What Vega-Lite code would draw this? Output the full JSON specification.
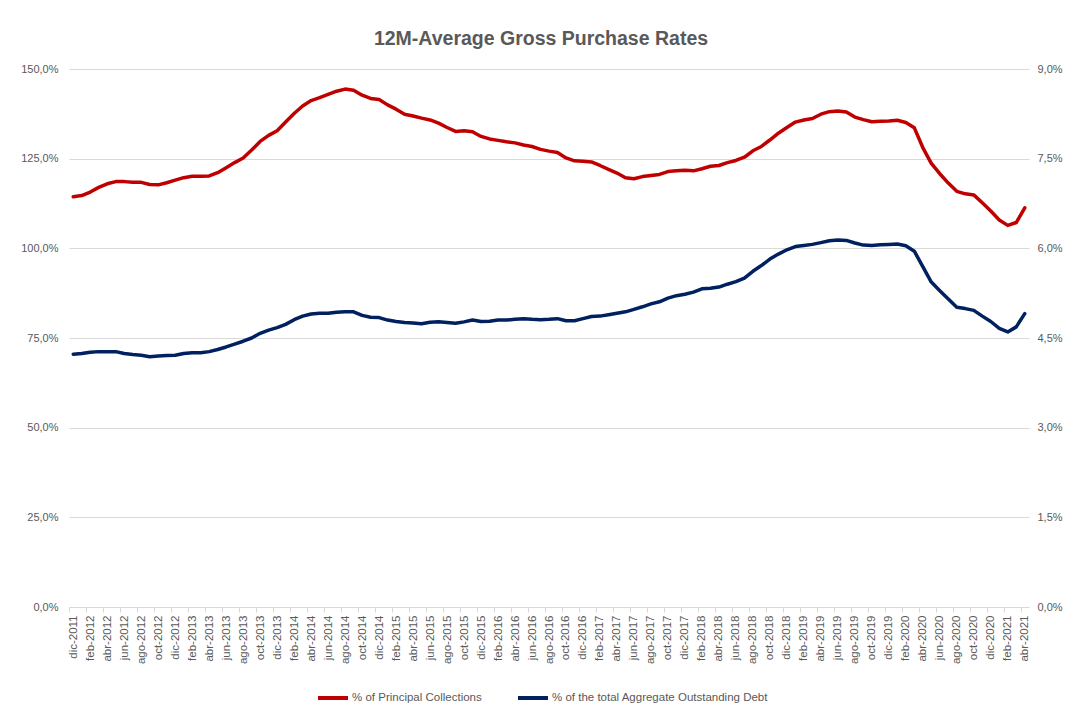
{
  "$schema": "https://vega.github.io/schema/vega-lite/v6.json",
  "width": 960,
  "height": 538,
  "autosize": {"type": "none"},
  "padding": {"left": 69, "top": 69, "right": 36, "bottom": 97},
  "background": "white",
  "config": {
    "locale": {"number": {"decimal": ",", "thousands": ".", "grouping": [3], "currency": ["", " €"]}},
    "view": {"stroke": null},
    "font": "Liberation Sans"
  },
  "title": {
    "text": "12M-Average Gross Purchase Rates",
    "fontSize": 19.5,
    "fontWeight": "bold",
    "color": "#595959",
    "font": "Liberation Sans",
    "anchor": "middle",
    "offset": 14,
    "dx": -8
  },
  "data": {
    "values": [
      {"m": "dic-2011", "pc": 1.144, "debt": 0.04230},
      {"m": "ene-2012", "pc": 1.147, "debt": 0.04242},
      {"m": "feb-2012", "pc": 1.157, "debt": 0.04260},
      {"m": "mar-2012", "pc": 1.170, "debt": 0.04272},
      {"m": "abr-2012", "pc": 1.180, "debt": 0.04272},
      {"m": "may-2012", "pc": 1.186, "debt": 0.04272},
      {"m": "jun-2012", "pc": 1.186, "debt": 0.04242},
      {"m": "jul-2012", "pc": 1.184, "debt": 0.04224},
      {"m": "ago-2012", "pc": 1.184, "debt": 0.04212},
      {"m": "sep-2012", "pc": 1.178, "debt": 0.04188},
      {"m": "oct-2012", "pc": 1.177, "debt": 0.04200},
      {"m": "nov-2012", "pc": 1.183, "debt": 0.04206},
      {"m": "dic-2012", "pc": 1.190, "debt": 0.04212},
      {"m": "ene-2013", "pc": 1.197, "debt": 0.04242},
      {"m": "feb-2013", "pc": 1.201, "debt": 0.04254},
      {"m": "mar-2013", "pc": 1.201, "debt": 0.04254},
      {"m": "abr-2013", "pc": 1.202, "debt": 0.04272},
      {"m": "may-2013", "pc": 1.211, "debt": 0.04308},
      {"m": "jun-2013", "pc": 1.225, "debt": 0.04350},
      {"m": "jul-2013", "pc": 1.239, "debt": 0.04398},
      {"m": "ago-2013", "pc": 1.252, "debt": 0.04446},
      {"m": "sep-2013", "pc": 1.274, "debt": 0.04500},
      {"m": "oct-2013", "pc": 1.298, "debt": 0.04578},
      {"m": "nov-2013", "pc": 1.315, "debt": 0.04632},
      {"m": "dic-2013", "pc": 1.328, "debt": 0.04674},
      {"m": "ene-2014", "pc": 1.352, "debt": 0.04728},
      {"m": "feb-2014", "pc": 1.376, "debt": 0.04806},
      {"m": "mar-2014", "pc": 1.397, "debt": 0.04866},
      {"m": "abr-2014", "pc": 1.412, "debt": 0.04902},
      {"m": "may-2014", "pc": 1.420, "debt": 0.04914},
      {"m": "jun-2014", "pc": 1.429, "debt": 0.04914},
      {"m": "jul-2014", "pc": 1.438, "debt": 0.04932},
      {"m": "ago-2014", "pc": 1.444, "debt": 0.04938},
      {"m": "sep-2014", "pc": 1.441, "debt": 0.04938},
      {"m": "oct-2014", "pc": 1.427, "debt": 0.04878},
      {"m": "nov-2014", "pc": 1.418, "debt": 0.04848},
      {"m": "dic-2014", "pc": 1.415, "debt": 0.04842},
      {"m": "ene-2015", "pc": 1.400, "debt": 0.04800},
      {"m": "feb-2015", "pc": 1.388, "debt": 0.04776},
      {"m": "mar-2015", "pc": 1.374, "debt": 0.04758},
      {"m": "abr-2015", "pc": 1.369, "debt": 0.04752},
      {"m": "may-2015", "pc": 1.363, "debt": 0.04740},
      {"m": "jun-2015", "pc": 1.358, "debt": 0.04764},
      {"m": "jul-2015", "pc": 1.349, "debt": 0.04770},
      {"m": "ago-2015", "pc": 1.337, "debt": 0.04758},
      {"m": "sep-2015", "pc": 1.326, "debt": 0.04746},
      {"m": "oct-2015", "pc": 1.328, "debt": 0.04770},
      {"m": "nov-2015", "pc": 1.325, "debt": 0.04800},
      {"m": "dic-2015", "pc": 1.312, "debt": 0.04776},
      {"m": "ene-2016", "pc": 1.305, "debt": 0.04782},
      {"m": "feb-2016", "pc": 1.301, "debt": 0.04800},
      {"m": "mar-2016", "pc": 1.297, "debt": 0.04800},
      {"m": "abr-2016", "pc": 1.294, "debt": 0.04812},
      {"m": "may-2016", "pc": 1.288, "debt": 0.04824},
      {"m": "jun-2016", "pc": 1.284, "debt": 0.04812},
      {"m": "jul-2016", "pc": 1.276, "debt": 0.04806},
      {"m": "ago-2016", "pc": 1.271, "debt": 0.04812},
      {"m": "sep-2016", "pc": 1.267, "debt": 0.04824},
      {"m": "oct-2016", "pc": 1.252, "debt": 0.04788},
      {"m": "nov-2016", "pc": 1.244, "debt": 0.04788},
      {"m": "dic-2016", "pc": 1.243, "debt": 0.04824},
      {"m": "ene-2017", "pc": 1.241, "debt": 0.04860},
      {"m": "feb-2017", "pc": 1.231, "debt": 0.04866},
      {"m": "mar-2017", "pc": 1.220, "debt": 0.04890},
      {"m": "abr-2017", "pc": 1.210, "debt": 0.04914},
      {"m": "may-2017", "pc": 1.197, "debt": 0.04938},
      {"m": "jun-2017", "pc": 1.194, "debt": 0.04980},
      {"m": "jul-2017", "pc": 1.200, "debt": 0.05022},
      {"m": "ago-2017", "pc": 1.203, "debt": 0.05070},
      {"m": "sep-2017", "pc": 1.206, "debt": 0.05106},
      {"m": "oct-2017", "pc": 1.214, "debt": 0.05166},
      {"m": "nov-2017", "pc": 1.216, "debt": 0.05208},
      {"m": "dic-2017", "pc": 1.218, "debt": 0.05232},
      {"m": "ene-2018", "pc": 1.216, "debt": 0.05268},
      {"m": "feb-2018", "pc": 1.222, "debt": 0.05322},
      {"m": "mar-2018", "pc": 1.229, "debt": 0.05334},
      {"m": "abr-2018", "pc": 1.231, "debt": 0.05352},
      {"m": "may-2018", "pc": 1.239, "debt": 0.05400},
      {"m": "jun-2018", "pc": 1.245, "debt": 0.05442},
      {"m": "jul-2018", "pc": 1.254, "debt": 0.05502},
      {"m": "ago-2018", "pc": 1.272, "debt": 0.05616},
      {"m": "sep-2018", "pc": 1.284, "debt": 0.05712},
      {"m": "oct-2018", "pc": 1.302, "debt": 0.05820},
      {"m": "nov-2018", "pc": 1.321, "debt": 0.05904},
      {"m": "dic-2018", "pc": 1.337, "debt": 0.05976},
      {"m": "ene-2019", "pc": 1.352, "debt": 0.06030},
      {"m": "feb-2019", "pc": 1.358, "debt": 0.06048},
      {"m": "mar-2019", "pc": 1.362, "debt": 0.06066},
      {"m": "abr-2019", "pc": 1.374, "debt": 0.06096},
      {"m": "may-2019", "pc": 1.381, "debt": 0.06126},
      {"m": "jun-2019", "pc": 1.383, "debt": 0.06138},
      {"m": "jul-2019", "pc": 1.380, "debt": 0.06132},
      {"m": "ago-2019", "pc": 1.366, "debt": 0.06090},
      {"m": "sep-2019", "pc": 1.359, "debt": 0.06054},
      {"m": "oct-2019", "pc": 1.353, "debt": 0.06048},
      {"m": "nov-2019", "pc": 1.354, "debt": 0.06060},
      {"m": "dic-2019", "pc": 1.355, "debt": 0.06066},
      {"m": "ene-2020", "pc": 1.357, "debt": 0.06072},
      {"m": "feb-2020", "pc": 1.351, "debt": 0.06042},
      {"m": "mar-2020", "pc": 1.336, "debt": 0.05952},
      {"m": "abr-2020", "pc": 1.281, "debt": 0.05694},
      {"m": "may-2020", "pc": 1.237, "debt": 0.05436},
      {"m": "jun-2020", "pc": 1.208, "debt": 0.05292},
      {"m": "jul-2020", "pc": 1.182, "debt": 0.05154},
      {"m": "ago-2020", "pc": 1.159, "debt": 0.05016},
      {"m": "sep-2020", "pc": 1.152, "debt": 0.04992},
      {"m": "oct-2020", "pc": 1.149, "debt": 0.04962},
      {"m": "nov-2020", "pc": 1.127, "debt": 0.04866},
      {"m": "dic-2020", "pc": 1.104, "debt": 0.04776},
      {"m": "ene-2021", "pc": 1.079, "debt": 0.04662},
      {"m": "feb-2021", "pc": 1.064, "debt": 0.04602},
      {"m": "mar-2021", "pc": 1.072, "debt": 0.04686},
      {"m": "abr-2021", "pc": 1.113, "debt": 0.04908}
    ]
  },
  "encoding": {
    "x": {
      "field": "m",
      "type": "ordinal",
      "sort": null,
      "scale": {"type": "point", "padding": 0.5},
      "axis": {
        "title": null,
        "labelAngle": -90,
        "labelFontSize": 11.5,
        "labelColor": "#595959",
        "labelPadding": 3,
        "ticks": true,
        "tickOffset": -4.25,
        "labelOffset": 4.25,
        "tickColor": "#D9D9D9",
        "tickSize": 5,
        "domainColor": "#D9D9D9",
        "grid": false,
        "labelOverlap": false,
        "labelBound": false,
        "labelFlush": false,
        "values": ["dic-2011", "feb-2012", "abr-2012", "jun-2012", "ago-2012", "oct-2012", "dic-2012", "feb-2013", "abr-2013", "jun-2013", "ago-2013", "oct-2013", "dic-2013", "feb-2014", "abr-2014", "jun-2014", "ago-2014", "oct-2014", "dic-2014", "feb-2015", "abr-2015", "jun-2015", "ago-2015", "oct-2015", "dic-2015", "feb-2016", "abr-2016", "jun-2016", "ago-2016", "oct-2016", "dic-2016", "feb-2017", "abr-2017", "jun-2017", "ago-2017", "oct-2017", "dic-2017", "feb-2018", "abr-2018", "jun-2018", "ago-2018", "oct-2018", "dic-2018", "feb-2019", "abr-2019", "jun-2019", "ago-2019", "oct-2019", "dic-2019", "feb-2020", "abr-2020", "jun-2020", "ago-2020", "oct-2020", "dic-2020", "feb-2021", "abr-2021"]
      }
    }
  },
  "layer": [
    {
      "mark": {"type": "line", "strokeWidth": 3.5, "strokeCap": "round", "strokeJoin": "round"},
      "encoding": {
        "y": {
          "field": "pc",
          "type": "quantitative",
          "scale": {"domain": [0, 1.5], "nice": false, "zero": true},
          "axis": {
            "orient": "left",
            "title": null,
            "values": [0, 0.25, 0.5, 0.75, 1, 1.25, 1.5],
            "format": ".1%",
            "grid": true,
            "gridColor": "#D9D9D9",
            "domain": false,
            "ticks": false,
            "labelFontSize": 11,
            "labelColor": "#595959",
            "labelPadding": 11
          }
        },
        "color": {
          "datum": "% of Principal Collections",
          "type": "nominal",
          "scale": {
            "domain": ["% of Principal Collections", "% of the total Aggregate Outstanding Debt"],
            "range": ["#C00000", "#002060"]
          },
          "legend": {
            "title": null,
            "orient": "none",
            "legendX": 247,
            "legendY": 612,
            "direction": "horizontal",
            "symbolType": "stroke",
            "symbolStrokeWidth": 4,
            "symbolSize": 900,
            "labelFontSize": 11.5,
            "labelColor": "#595959",
            "labelOffset": 2,
            "labelLimit": 400,
            "columnPadding": 28
          }
        }
      }
    },
    {
      "mark": {"type": "line", "strokeWidth": 3.5, "strokeCap": "round", "strokeJoin": "round"},
      "encoding": {
        "y": {
          "field": "debt",
          "type": "quantitative",
          "scale": {"domain": [0, 0.09], "nice": false, "zero": true},
          "axis": {
            "orient": "right",
            "title": null,
            "values": [0, 0.015, 0.03, 0.045, 0.06, 0.075, 0.09],
            "format": ".1%",
            "grid": false,
            "domain": false,
            "ticks": false,
            "labelFontSize": 11,
            "labelColor": "#595959",
            "labelPadding": 8
          }
        },
        "color": {"datum": "% of the total Aggregate Outstanding Debt", "type": "nominal"}
      }
    }
  ],
  "resolve": {"scale": {"y": "independent"}}
}
